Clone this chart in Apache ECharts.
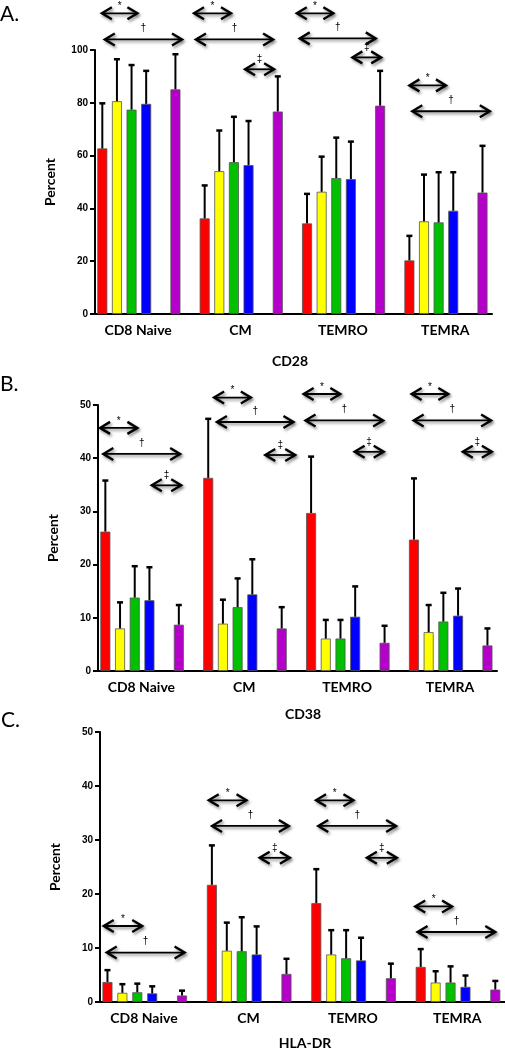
<!DOCTYPE html>
<html><head><meta charset="utf-8">
<script src="https://cdn.jsdelivr.net/npm/echarts@6/dist/echarts.min.js"></script>
<style>html,body{margin:0;padding:0;background:#fff}#c{width:505px;height:1050px}</style>
</head><body><div id="c"></div>
<script>
// ---------- data ----------
const categories = ['CD8 Naive', 'CM', 'TEMRO', 'TEMRA'];
const groupColors = ['#ff0000', '#ffff00', '#00c000', '#0000ff', '#b400c8'];
const groupSlots = [0, 1, 2, 3, 5];      // slot of each group inside a category (7 slots per category)
const slotsPerCategory = 7;
const sigSymbols = ['*', '\u2020', '\u2021'];

// rows: red, yellow, green, blue, purple ; columns: categories
const cd28Mean = [
  [62.7, 36.2, 34.3, 20.3],
  [80.6, 54.1, 46.3, 35.1],
  [77.4, 57.5, 51.5, 34.7],
  [79.6, 56.4, 51.1, 39.1],
  [85.1, 76.7, 78.9, 46.0]
];
const cd28SD = [
  [17.1, 12.5, 11.2, 9.3],
  [15.9, 15.4, 13.3, 17.7],
  [16.9, 17.2, 15.3, 19.0],
  [12.5, 16.7, 14.2, 14.6],
  [13.3, 13.3, 13.2, 17.7]
];
const cd38Mean = [
  [26.2, 36.3, 29.7, 24.7],
  [8.0, 8.9, 6.1, 7.3],
  [13.8, 12.0, 6.1, 9.3],
  [13.3, 14.4, 10.2, 10.4],
  [8.7, 8.0, 5.3, 4.8]
];
const cd38SD = [
  [9.6, 11.1, 10.6, 11.5],
  [4.9, 4.5, 3.5, 5.1],
  [5.9, 5.4, 3.5, 5.4],
  [6.2, 6.6, 5.7, 5.1],
  [3.7, 4.0, 3.2, 3.2]
];
const hladrMean = [
  [3.7, 21.7, 18.3, 6.5],
  [1.7, 9.5, 8.8, 3.6],
  [1.8, 9.4, 8.1, 3.6],
  [1.6, 8.8, 7.7, 2.8],
  [1.2, 5.2, 4.4, 2.3]
];
const hladrSD = [
  [2.2, 7.3, 6.3, 3.3],
  [1.6, 5.2, 4.5, 2.1],
  [1.6, 6.3, 5.2, 3.0],
  [1.3, 5.2, 4.2, 2.1],
  [0.9, 2.8, 2.7, 1.6]
];
// significance brackets: [fromSlot, toSlot, yValue, symbolIndex]
const cd28Sig = [
  [-0.03, 2.4, 113.9, 0], [0.17, 5.45, 104, 1],
  [6.27, 8.8, 113.9, 0], [6.4, 11.68, 104, 1], [9.76, 11.75, 92.7, 2],
  [13.3, 15.8, 113.9, 0], [13.5, 18.7, 104.4, 1], [17.1, 19.07, 97.2, 2],
  [21.0, 23.5, 86.6, 0], [21.2, 26.5, 76.8, 1]
];
const cd38Sig = [
  [-0.36, 2.18, 45.7, 0], [-0.14, 5.09, 40.8, 1], [3.16, 5.16, 34.9, 2],
  [7.4, 9.9, 51.4, 0], [7.59, 12.8, 46.8, 1], [10.88, 12.92, 40.6, 2],
  [13.49, 15.99, 52.07, 0], [13.62, 18.9, 47.1, 1], [16.96, 18.94, 41.2, 2],
  [20.84, 23.34, 52.07, 0], [20.98, 26.25, 47.1, 1], [24.32, 26.3, 41.2, 2]
];
const hladrSig = [
  [-0.25, 2.33, 14.07, 0], [-0.05, 5.17, 9.15, 1],
  [6.79, 9.32, 37.35, 0], [7.01, 12.16, 32.6, 1], [10.2, 12.23, 26.7, 2],
  [13.98, 16.49, 37.35, 0], [14.13, 19.35, 32.6, 1], [17.39, 19.4, 26.7, 2],
  [20.63, 23.1, 17.7, 0], [20.79, 26.0, 12.96, 1]
];
const panelLetters = ['A.', 'B.', 'C.'];
const panelTitles = ['CD28', 'CD38', 'HLA-DR'];
const yMax = [100, 50, 50];
const yInterval = [20, 10, 10];

// ---------- layout ----------
const grids = [
  {left: 95, top: 50, width: 397, height: 264},
  {left: 98, top: 405, width: 399, height: 266},
  {left: 100, top: 732, width: 405, height: 270}
];
const panels = [
  {mean: cd28Mean, sd: cd28SD, sig: cd28Sig},
  {mean: cd38Mean, sd: cd38SD, sig: cd38Sig},
  {mean: hladrMean, sd: hladrSD, sig: hladrSig}
];

const labelFont = 'Lato, "Open Sans", sans-serif';
const xAxes = [], yAxes = [], series = [];
const labelCenter = 2.45;

panels.forEach((p, gi) => {
  xAxes.push({
    type: 'value', gridIndex: gi, min: -0.5, max: 26.65,
    splitLine: {show: false}, axisTick: {show: false},
    axisLine: {show: true, onZero: false, lineStyle: {color: '#000', width: 2}},
    axisLabel: {
      customValues: categories.map((c, i) => i * slotsPerCategory + labelCenter),
      formatter: v => categories[Math.round((v - labelCenter) / slotsPerCategory)] || '',
      fontFamily: labelFont, fontWeight: 'bold', fontSize: 14, color: '#000', margin: 9
    }
  });
  yAxes.push({
    type: 'value', gridIndex: gi, min: 0, max: yMax[gi], interval: yInterval[gi],
    splitLine: {show: false},
    axisLine: {show: true, onZero: false, lineStyle: {color: '#000', width: 2}},
    axisTick: {show: true, length: 5, lineStyle: {color: '#000', width: 2}},
    axisLabel: {fontFamily: '"Liberation Sans", Arial, sans-serif', fontWeight: 'bold', fontSize: 10, color: '#000', margin: 7},
    name: 'Percent', nameLocation: 'middle', nameGap: 38,
    nameTextStyle: {fontFamily: labelFont, fontWeight: 'bold', fontSize: 14, color: '#000'}
  });
  const barData = [], errData = [];
  p.mean.forEach((row, k) => {
    row.forEach((v, c) => {
      const x = c * slotsPerCategory + groupSlots[k];
      barData.push({value: [x, v], itemStyle: {color: groupColors[k]}});
      errData.push([x, v, p.sd[k][c]]);
    });
  });
  series.push({
    type: 'bar', xAxisIndex: gi, yAxisIndex: gi, barWidth: 10,
    itemStyle: {borderColor: '#555', borderWidth: 0.8},
    data: barData, z: 2, animation: false
  });
  series.push({
    type: 'custom', xAxisIndex: gi, yAxisIndex: gi, z: 3, animation: false,
    encode: {x: 0, y: 1},
    data: errData,
    renderItem: (params, api) => {
      const x = api.value(0), m = api.value(1), s = api.value(2);
      const b = api.coord([x, m]), t = api.coord([x, m + s]);
      return {type: 'group', children: [
        {type: 'line', shape: {x1: b[0], y1: b[1], x2: t[0], y2: t[1]}, style: {stroke: '#000', lineWidth: 2}},
        {type: 'line', shape: {x1: t[0] - 3, y1: t[1], x2: t[0] + 3, y2: t[1]}, style: {stroke: '#000', lineWidth: 2.5}}
      ]};
    }
  });
  series.push({
    type: 'custom', xAxisIndex: gi, yAxisIndex: gi, z: 4, clip: false, animation: false,
    encode: {x: [0, 1], y: 2},
    data: p.sig,
    renderItem: (params, api) => {
      const x1 = api.value(0), x2 = api.value(1), y = api.value(2), k = api.value(3);
      const a = api.coord([x1, y]), b = api.coord([x2, y]);
      const sh = {shadowBlur: 3, shadowColor: 'rgba(0,0,0,0.45)', shadowOffsetX: 1.5, shadowOffsetY: 2};
      const dx = 10, dy = 6;
      const off = [7, 11, 10][k];
      return {type: 'group', children: [
        {type: 'line', shape: {x1: a[0] + 1, y1: a[1], x2: b[0] - 1, y2: b[1]}, style: Object.assign({stroke: '#000', lineWidth: 1.8}, sh)},
        {type: 'polyline', shape: {points: [[a[0] + dx, a[1] - dy], [a[0], a[1]], [a[0] + dx, a[1] + dy]]}, style: Object.assign({stroke: '#000', fill: null, lineWidth: 2.4}, sh)},
        {type: 'polyline', shape: {points: [[b[0] - dx, b[1] - dy], [b[0], b[1]], [b[0] - dx, b[1] + dy]]}, style: Object.assign({stroke: '#000', fill: null, lineWidth: 2.4}, sh)},
        {type: 'text', x: (a[0] + b[0]) / 2, y: a[1] - off, style: {text: sigSymbols[k], fill: '#000', font: '10px "Liberation Sans", Arial, sans-serif', align: 'center', verticalAlign: 'middle'}}
      ]};
    }
  });
});

const graphics = [
  {type: 'text', x: 0, y: 14, style: {text: panelLetters[0], font: '21px ' + labelFont, fill: '#000', verticalAlign: 'middle'}},
  {type: 'text', x: 0, y: 384, style: {text: panelLetters[1], font: '21px ' + labelFont, fill: '#000', verticalAlign: 'middle'}},
  {type: 'text', x: 1, y: 720, style: {text: panelLetters[2], font: '21px ' + labelFont, fill: '#000', verticalAlign: 'middle'}},
  {type: 'text', x: 290, y: 361, style: {text: panelTitles[0], font: 'bold 14px ' + labelFont, fill: '#000', align: 'center', verticalAlign: 'middle'}},
  {type: 'text', x: 303, y: 714, style: {text: panelTitles[1], font: 'bold 14px ' + labelFont, fill: '#000', align: 'center', verticalAlign: 'middle'}},
  {type: 'text', x: 305, y: 1043, style: {text: panelTitles[2], font: 'bold 14px ' + labelFont, fill: '#000', align: 'center', verticalAlign: 'middle'}}
];

const chart = echarts.init(document.getElementById('c'), null, {renderer: 'canvas'});
chart.setOption({
  backgroundColor: '#fff',
  animation: false,
  grid: grids,
  xAxis: xAxes,
  yAxis: yAxes,
  series: series,
  graphic: graphics
});
</script>
</body></html>
